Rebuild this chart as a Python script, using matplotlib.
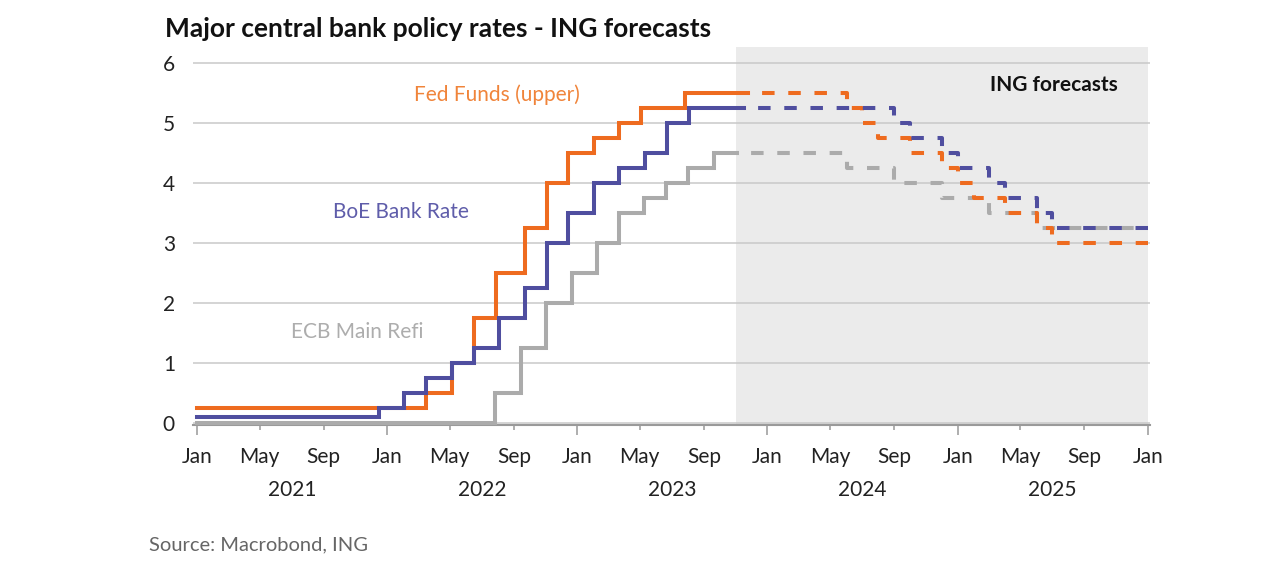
import matplotlib
matplotlib.use("Agg")
import matplotlib.pyplot as plt
import matplotlib.dates as mdates
import pandas as pd

# ---- data: policy rates (step changes), actual and ING forecast ----
fed_dates = ["2021-01-01", "2022-03-17", "2022-05-05", "2022-06-16", "2022-07-28",
             "2022-09-22", "2022-11-03", "2022-12-15", "2023-02-02", "2023-03-23",
             "2023-05-04", "2023-07-27", "2023-11-24"]
fed_rates = [0.25, 0.50, 1.00, 1.75, 2.50, 3.25, 4.00, 4.50, 4.75, 5.00, 5.25, 5.50, 5.50]

boe_dates = ["2021-01-01", "2021-12-16", "2022-02-03", "2022-03-17", "2022-05-05",
             "2022-06-16", "2022-08-04", "2022-09-22", "2022-11-03", "2022-12-15",
             "2023-02-02", "2023-03-23", "2023-05-11", "2023-06-22", "2023-08-03",
             "2023-11-18"]
boe_rates = [0.10, 0.25, 0.50, 0.75, 1.00, 1.25, 1.75, 2.25, 3.00, 3.50,
             4.00, 4.25, 4.50, 5.00, 5.25, 5.25]

ecb_dates = ["2021-01-01", "2022-07-27", "2022-09-14", "2022-11-02", "2022-12-21",
             "2023-02-08", "2023-03-22", "2023-05-10", "2023-06-21", "2023-08-02",
             "2023-09-20", "2023-11-03"]
ecb_rates = [0.00, 0.50, 1.25, 2.00, 2.50, 3.00, 3.50, 3.75, 4.00, 4.25, 4.50, 4.50]

fed_fc_dates = ["2023-11-24", "2024-06-01", "2024-07-01", "2024-08-01", "2024-10-01",
                "2024-12-01", "2025-01-01", "2025-02-01", "2025-04-01", "2025-06-01",
                "2025-07-01", "2026-01-01"]
fed_fc_rates = [5.50, 5.25, 5.00, 4.75, 4.50, 4.25, 4.00, 3.75, 3.50, 3.25, 3.00, 3.00]

boe_fc_dates = ["2023-11-18", "2024-09-01", "2024-10-01", "2024-12-01", "2025-01-01",
                "2025-03-01", "2025-04-01", "2025-06-01", "2025-07-01", "2026-01-01"]
boe_fc_rates = [5.25, 5.00, 4.75, 4.50, 4.25, 4.00, 3.75, 3.50, 3.25, 3.25]

ecb_fc_dates = ["2023-11-03", "2024-06-01", "2024-09-01", "2024-12-01", "2025-03-01",
                "2025-06-01", "2026-01-01"]
ecb_fc_rates = [4.50, 4.25, 4.00, 3.75, 3.50, 3.25, 3.25]

forecast_span = ["2023-11-01", "2026-01-01"]
year_labels = ["2021", "2022", "2023", "2024", "2025"]

ORANGE = "#EE6B1F"
BLUE = "#4F4E9F"
GREY = "#ABABAB"
FONT = "Lato"

plt.rcParams["font.family"] = [FONT, "DejaVu Sans"]

fig = plt.figure(figsize=(12.8, 5.66), dpi=100)
ax = fig.add_axes([0.1508, 0.2495, 0.7477, 0.6678])

ax.axvspan(pd.Timestamp(forecast_span[0]), pd.Timestamp(forecast_span[1]),
           color="#EBEBEB", lw=0, zorder=0.2)

dash = (3.0, (3.1, 3.4))
series = [
    (ecb_dates, ecb_rates, ecb_fc_dates, ecb_fc_rates, GREY),
    (fed_dates, fed_rates, fed_fc_dates, fed_fc_rates, ORANGE),
    (boe_dates, boe_rates, boe_fc_dates, boe_fc_rates, BLUE),
]
for i, (d, r, fd, fr, col) in enumerate(series):
    ax.step(pd.to_datetime(d), r, where="post", color=col, lw=2.9,
            solid_joinstyle="miter", zorder=3 + i, clip_on=False)
    ax.step(pd.to_datetime(fd), fr, where="post", color=col, lw=2.9,
            linestyle=dash, zorder=3 + i, clip_on=False)

ax.set_xlim(pd.Timestamp("2020-12-24"), pd.Timestamp("2026-01-05"))
ax.set_ylim(-0.03, 6.27)
ax.set_yticks(range(0, 7))
ax.grid(axis="y", color="#C9C9C9", lw=1.1)
ax.set_axisbelow(True)

ax.xaxis.set_major_locator(mdates.MonthLocator(bymonth=[1]))
ax.xaxis.set_minor_locator(mdates.MonthLocator(bymonth=[5, 9]))
ax.xaxis.set_major_formatter(mdates.DateFormatter("%b"))
ax.xaxis.set_minor_formatter(mdates.DateFormatter("%b"))
ax.tick_params(axis="x", which="major", length=7.2, width=1.1, color="#999999",
               pad=8.6, labelsize=15, labelcolor="#222222")
ax.tick_params(axis="x", which="minor", length=3.6, width=1.1, color="#999999",
               pad=12.2, labelsize=15, labelcolor="#222222")
ax.tick_params(axis="y", length=0, pad=13, labelsize=15, labelcolor="#222222")

for s in ["top", "right", "left"]:
    ax.spines[s].set_visible(False)
ax.spines["bottom"].set_color("#9A9A9A")
ax.spines["bottom"].set_linewidth(1.5)

for yl in year_labels:
    ax.text(pd.Timestamp(f"{yl}-07-02"), -0.172, yl, transform=ax.get_xaxis_transform(),
            ha="center", va="center", fontsize=15, color="#222222")

ax.text(pd.Timestamp("2022-07-31"), 5.48, "Fed Funds (upper)", color="#F0843A",
        fontsize=15, ha="center", va="center", zorder=6)
ax.text(pd.Timestamp("2022-01-28"), 3.52, "BoE Bank Rate", color="#5F5DAA",
        fontsize=15, ha="center", va="center", zorder=6)
ax.text(pd.Timestamp("2021-11-04"), 1.52, "ECB Main Refi", color="#ADADAD",
        fontsize=15, ha="center", va="center", zorder=6)
ax.text(pd.Timestamp("2025-07-04"), 5.63, "ING forecasts", color="#111111",
        fontsize=15, fontweight="bold", ha="center", va="center", zorder=6)

fig.text(0.129, 0.9346, "Major central bank policy rates - ING forecasts",
         fontsize=19, fontweight="bold", color="#111111", va="baseline", ha="left")
fig.text(0.1164, 0.0283, "Source: Macrobond, ING", fontsize=14.5,
         color="#666666", va="baseline", ha="left")

fig.savefig("out.png", dpi=100, facecolor="white")
